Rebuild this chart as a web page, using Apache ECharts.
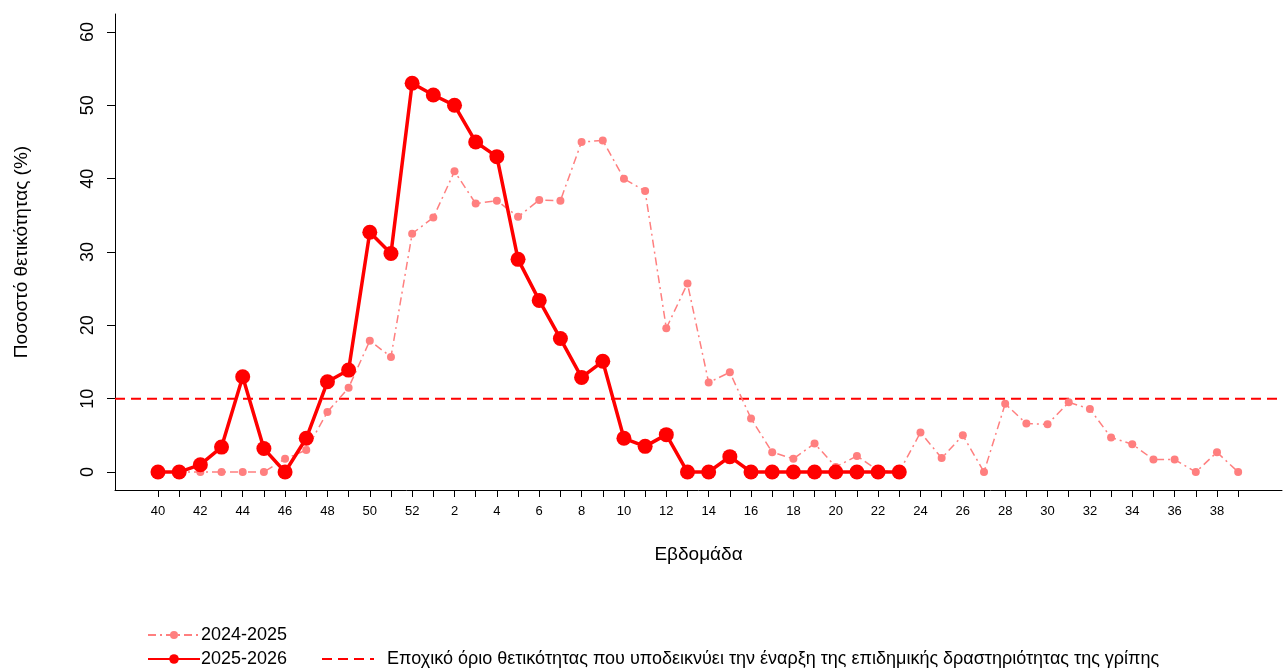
<!DOCTYPE html>
<html>
<head>
<meta charset="utf-8">
<script src="https://cdn.jsdelivr.net/npm/echarts@6/dist/echarts.min.js"></script>
<style>html,body{margin:0;padding:0;background:#fff}#chart{width:1285px;height:668px}</style>
</head>
<body>
<div id="chart"></div>
<script>
var weeks = [40,41,42,43,44,45,46,47,48,49,50,51,52,1,2,3,4,5,6,7,8,9,10,11,12,13,14,15,16,17,18,19,20,21,22,23,24,25,26,27,28,29,30,31,32,33,34,35,36,37,38,39];
var season2425 = [0,0,0,0,0,0,1.8,3,8.2,11.5,17.9,15.7,32.5,34.7,41,36.6,37,34.8,37.1,37,45,45.2,40,38.3,19.6,25.7,12.2,13.6,7.3,2.7,1.8,3.9,0.7,2.2,0.2,0,5.4,1.9,5,0,9.3,6.6,6.5,9.5,8.6,4.7,3.8,1.7,1.7,0,2.7,0];
var season2526 = [0,0,1,3.4,13,3.2,0,4.6,12.3,13.9,32.7,29.8,53,51.4,50,45,43,29,23.4,18.2,12.9,15.1,4.6,3.5,5.1,0,0,2.1,0,0,0,0,0,0,0,0];
var threshold = 10;
var yTicks = [0,10,20,30,40,50,60];
var xTickIdx = [];
for (var i = 0; i < weeks.length; i += 2) xTickIdx.push(i);

var thrName = 'Εποχικό όριο θετικότητας που υποδεικνύει την έναρξη της επιδημικής δραστηριότητας της γρίπης';
var xMin = -2.03, xMax = 53.07;
var font = 'Liberation Sans, Arial, sans-serif';
var legText = { fontSize: 18, color: '#000', fontFamily: font, padding: [0, 0, 0, -4] };
var myChart = echarts.init(document.getElementById('chart'));
var option = {
	animation: false,
	textStyle: { fontFamily: font },
	grid: { left: 115, right: 3, top: 14, bottom: 178, outerBoundsMode: 'none' },
	xAxis: {
		type: 'value', min: xMin, max: xMax,
		name: 'Εβδομάδα', nameLocation: 'middle', nameGap: 55,
		nameTextStyle: { color: '#000', fontSize: 19, fontFamily: font },
		axisLine: { onZero: false, lineStyle: { color: '#000', width: 1 } },
		axisTick: { customValues: weeks.map(function (w, i) { return i; }), length: 7, lineStyle: { color: '#000' } },
		axisLabel: {
			customValues: xTickIdx, color: '#000', fontSize: 13, margin: 15,
			formatter: function (v) { return String(weeks[Math.round(v)]); }
		},
		splitLine: { show: false }
	},
	yAxis: {
		type: 'value', min: -2.45, max: 62.45,
		name: 'Ποσοστό θετικότητας (%)', nameLocation: 'middle', nameGap: 84,
		nameTextStyle: { color: '#000', fontSize: 19, fontFamily: font },
		axisLine: { show: true, onZero: false, lineStyle: { color: '#000', width: 1 } },
		axisTick: { show: true, customValues: yTicks, length: 8, lineStyle: { color: '#000' } },
		axisLabel: { customValues: yTicks, color: '#000', fontSize: 18, rotate: 90, margin: 18 },
		splitLine: { show: false }
	},
	legend: [{
		left: 142, top: 621, itemWidth: 52, itemHeight: 10,
		textStyle: legText, data: ['2024-2025']
	}, {
		left: 142, top: 645, itemWidth: 52, itemHeight: 12,
		textStyle: legText, data: ['2025-2026']
	}, {
		left: 316, top: 645, itemWidth: 52, itemHeight: 10,
		itemStyle: { opacity: 0 },
		textStyle: { fontSize: 18, color: '#000', fontFamily: font, padding: [0, 0, 0, 8] },
		data: [thrName]
	}],
	series: [{
		name: thrName,
		type: 'line', symbol: 'none', silent: true,
		lineStyle: { color: '#ff0000', width: 2, type: [10, 6] },
		itemStyle: { color: '#ff0000' },
		data: [[xMin, threshold], [xMax, threshold]]
	}, {
		name: '2024-2025', type: 'line', symbol: 'circle', symbolSize: 8,
		lineStyle: { color: '#ff7f7f', width: 1.5, type: [8, 4, 2, 4] },
		itemStyle: { color: '#ff7f7f' },
		data: season2425.map(function (v, i) { return [i, v]; })
	}, {
		name: '2025-2026', type: 'line', symbol: 'circle', symbolSize: 15,
		lineStyle: { color: '#ff0000', width: 3.5 },
		itemStyle: { color: '#ff0000' },
		data: season2526.map(function (v, i) { return [i, v]; })
	}]
};
myChart.setOption(option);
</script>
</body>
</html>
